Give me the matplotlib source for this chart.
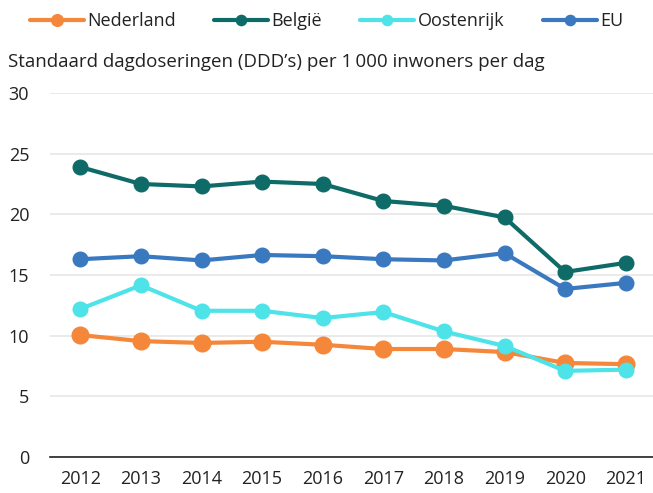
import numpy as np
import matplotlib.pyplot as plt

plt.rcParams['font.family'] = ['Open Sans', 'DejaVu Sans']

jaren = [2012, 2013, 2014, 2015, 2016, 2017, 2018, 2019, 2020, 2021]
nederland = [10.05, 9.55, 9.4, 9.5, 9.25, 8.9, 8.9, 8.65, 7.75, 7.65]
belgie = [23.9, 22.5, 22.3, 22.7, 22.5, 21.1, 20.7, 19.75, 15.25, 16.0]
oostenrijk = [12.2, 14.15, 12.05, 12.05, 11.45, 11.95, 10.35, 9.15, 7.1, 7.2]
eu = [16.3, 16.55, 16.2, 16.65, 16.55, 16.3, 16.2, 16.8, 13.85, 14.35]

reeksen = [
    ("Nederland", nederland, "#F5873A", 12),
    ("België", belgie, "#0E6B68", 10.5),
    ("Oostenrijk", oostenrijk, "#4DE3E8", 10.5),
    ("EU", eu, "#3A78C0", 10.5),
]

fig = plt.figure(figsize=(6.53, 4.93), dpi=100)
ax = fig.add_axes([50/653, 1-457/493, 1-50/653, (457-93)/493])

for naam, waarden, kleur, ms in reeksen:
    ax.plot(jaren, waarden, color=kleur, linewidth=3, marker='o', markersize=ms,
            label=naam, solid_capstyle='round')

ax.set_xlim(2011.5, 2021.45)
ax.set_ylim(0, 30)
ax.set_yticks([0, 5, 10, 15, 20, 25, 30])
ax.set_xticks(jaren)
ax.grid(axis='y', color='#e6e6e6', linewidth=1.2)
ax.set_axisbelow(True)
for s in ['left', 'right', 'top']:
    ax.spines[s].set_visible(False)
ax.spines['bottom'].set_color('#222222')
ax.spines['bottom'].set_linewidth(1.2)
ax.tick_params(axis='both', length=0, labelsize=13, colors='#222222')
ax.tick_params(axis='x', pad=9)
ax.tick_params(axis='y', pad=15)

fig.text(8/653, 1-62/493, "Standaard dagdoseringen (DDD\u2019s) per 1\u2009000 inwoners per dag",
         fontsize=13.5, color='#222222', va='center', ha='left')

handles, labels = ax.get_legend_handles_labels()
fig.legend(handles, labels, loc='center', bbox_to_anchor=(0.5, 1-21/493), ncol=4,
           frameon=False, fontsize=13, handlelength=3.0, handletextpad=0.2,
           columnspacing=2.1, markerscale=0.7, labelcolor='#222222')

fig.savefig("out.png", dpi=100)
